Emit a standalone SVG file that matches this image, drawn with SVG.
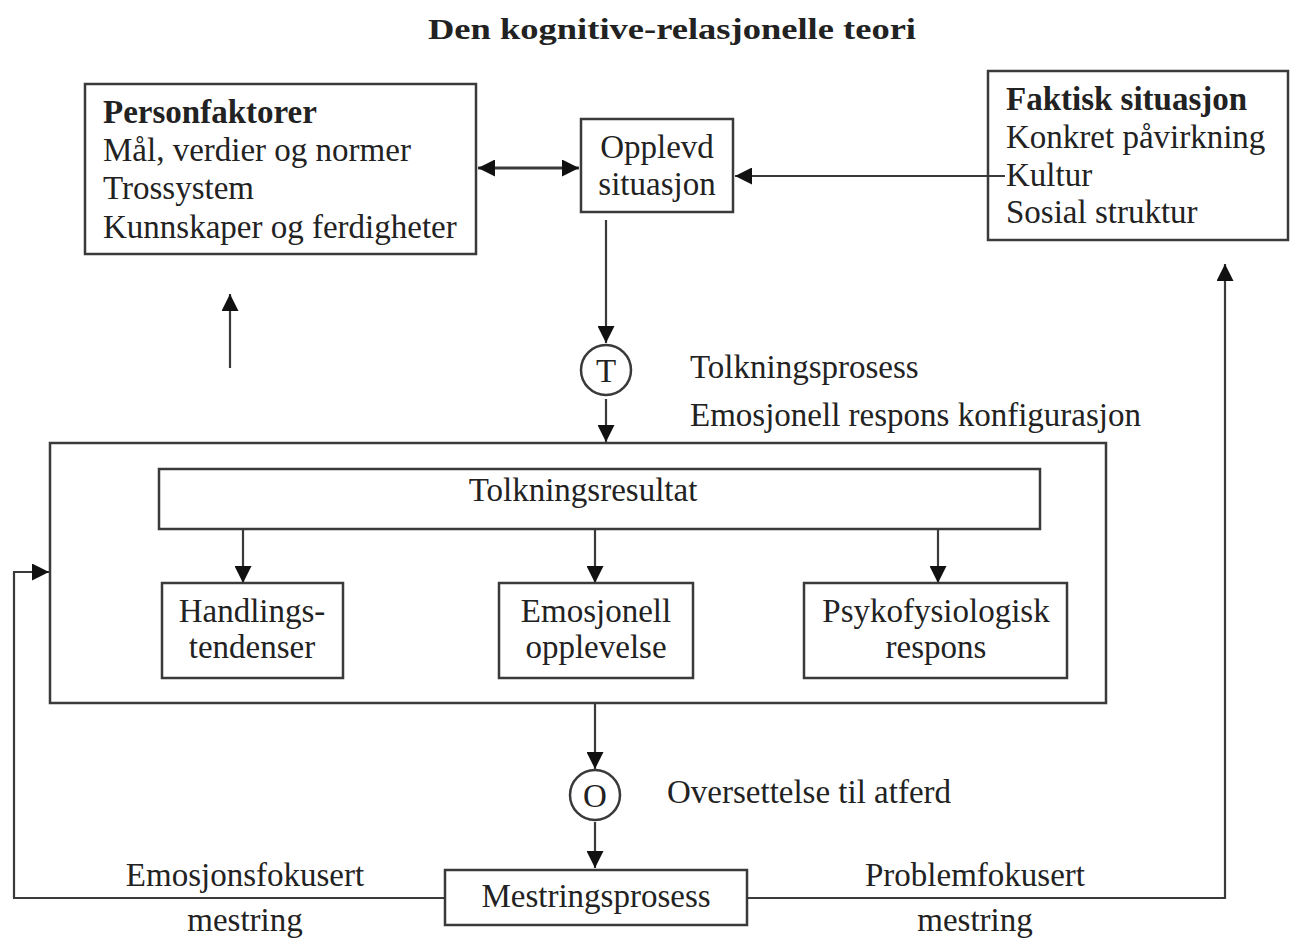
<svg xmlns="http://www.w3.org/2000/svg" width="1295" height="938" viewBox="0 0 1295 938">
<defs>
<style>
.box{fill:#fff;stroke:#3a3a3a;stroke-width:2.5}
.ln{fill:none;stroke:#3a3a3a;stroke-width:2.2}
.t{font-family:"Liberation Serif","Times New Roman",serif;font-size:33px;fill:#222}
.b{font-weight:bold}
.c{text-anchor:middle}
.title{font-family:"Liberation Serif","DejaVu Serif",serif;font-size:30px;font-weight:bold;fill:#222;text-anchor:middle}
</style>
<marker id="ah" viewBox="0 0 16 16" refX="16" refY="8" markerWidth="17" markerHeight="17" markerUnits="userSpaceOnUse" orient="auto-start-reverse">
<path d="M0,0 L16,8 L0,16 Z" fill="#111"/>
</marker>
</defs>
<rect width="1295" height="938" fill="#fff"/>
<text class="title" x="672" y="39" textLength="488" lengthAdjust="spacingAndGlyphs">Den kognitive-relasjonelle teori</text>

<g id="connectors">
<line class="ln" x1="478" y1="168" x2="579" y2="168" style="stroke-width:3.2" marker-start="url(#ah)" marker-end="url(#ah)"/>
<line class="ln" x1="1005" y1="176" x2="735" y2="176" marker-end="url(#ah)"/>
<line class="ln" x1="606" y1="220" x2="606" y2="343" marker-end="url(#ah)"/>
<line class="ln" x1="606" y1="399" x2="606" y2="442" marker-end="url(#ah)"/>
<line class="ln" x1="230" y1="368" x2="230" y2="294" marker-end="url(#ah)"/>
<line class="ln" x1="243" y1="530" x2="243" y2="583" marker-end="url(#ah)"/>
<line class="ln" x1="595" y1="530" x2="595" y2="583" marker-end="url(#ah)"/>
<line class="ln" x1="938" y1="530" x2="938" y2="583" marker-end="url(#ah)"/>
<line class="ln" x1="595" y1="704" x2="595" y2="769" marker-end="url(#ah)"/>
<line class="ln" x1="595" y1="822" x2="595" y2="868" marker-end="url(#ah)"/>
<path class="ln" d="M445,898 H14 V572 H49" marker-end="url(#ah)"/>
<path class="ln" d="M748,898 H1225 V264" marker-end="url(#ah)"/>
</g>

<g id="personfaktorer">
<rect class="box" x="85" y="84" width="391" height="170"/>
<text class="t b" x="103" y="123">Personfaktorer</text>
<text class="t" x="103" y="161">Mål, verdier og normer</text>
<text class="t" x="103" y="199">Trossystem</text>
<text class="t" x="103" y="238">Kunnskaper og ferdigheter</text>
</g>

<g id="opplevd">
<rect class="box" x="581" y="119" width="152" height="93"/>
<text class="t c" x="657" y="158">Opplevd</text>
<text class="t c" x="657" y="195">situasjon</text>
</g>

<g id="faktisk">
<rect class="box" x="988" y="71" width="300" height="169" style="fill:none"/>
<text class="t b" x="1006" y="110">Faktisk situasjon</text>
<text class="t" x="1006" y="148">Konkret påvirkning</text>
<text class="t" x="1006" y="186">Kultur</text>
<text class="t" x="1006" y="223">Sosial struktur</text>
</g>

<g id="t-node">
<circle class="box" cx="606" cy="370" r="25"/>
<text class="t c" x="606" y="382">T</text>
</g>
<g id="tolkning-labels">
<text class="t" x="690" y="378">Tolkningsprosess</text>
<text class="t" x="690" y="426">Emosjonell respons konfigurasjon</text>
</g>

<g id="outer">
<rect class="box" x="50" y="443" width="1056" height="260" style="fill:none"/>
</g>

<g id="tolkningsresultat">
<rect class="box" x="159" y="469" width="881" height="60"/>
<text class="t c" x="583" y="501">Tolkningsresultat</text>
</g>

<g id="handling">
<rect class="box" x="162" y="583" width="181" height="95"/>
<text class="t c" x="252" y="622">Handlings-</text>
<text class="t c" x="252" y="658">tendenser</text>
</g>

<g id="emosjonell">
<rect class="box" x="499" y="583" width="194" height="95"/>
<text class="t c" x="596" y="622">Emosjonell</text>
<text class="t c" x="596" y="658">opplevelse</text>
</g>

<g id="psyko">
<rect class="box" x="804" y="583" width="263" height="95"/>
<text class="t c" x="936" y="622">Psykofysiologisk</text>
<text class="t c" x="936" y="658">respons</text>
</g>

<g id="o-node">
<circle class="box" cx="595" cy="795" r="25"/>
<text class="t c" x="595" y="807">O</text>
</g>
<text class="t" x="667" y="803">Oversettelse til atferd</text>

<g id="mestring">
<rect class="box" x="445" y="870" width="302" height="55"/>
<text class="t c" x="596" y="907">Mestringsprosess</text>
</g>

<g id="coping-labels">
<text class="t c" x="245" y="886">Emosjonsfokusert</text>
<text class="t c" x="245" y="931">mestring</text>
<text class="t c" x="975" y="886">Problemfokusert</text>
<text class="t c" x="975" y="931">mestring</text>
</g>
</svg>
